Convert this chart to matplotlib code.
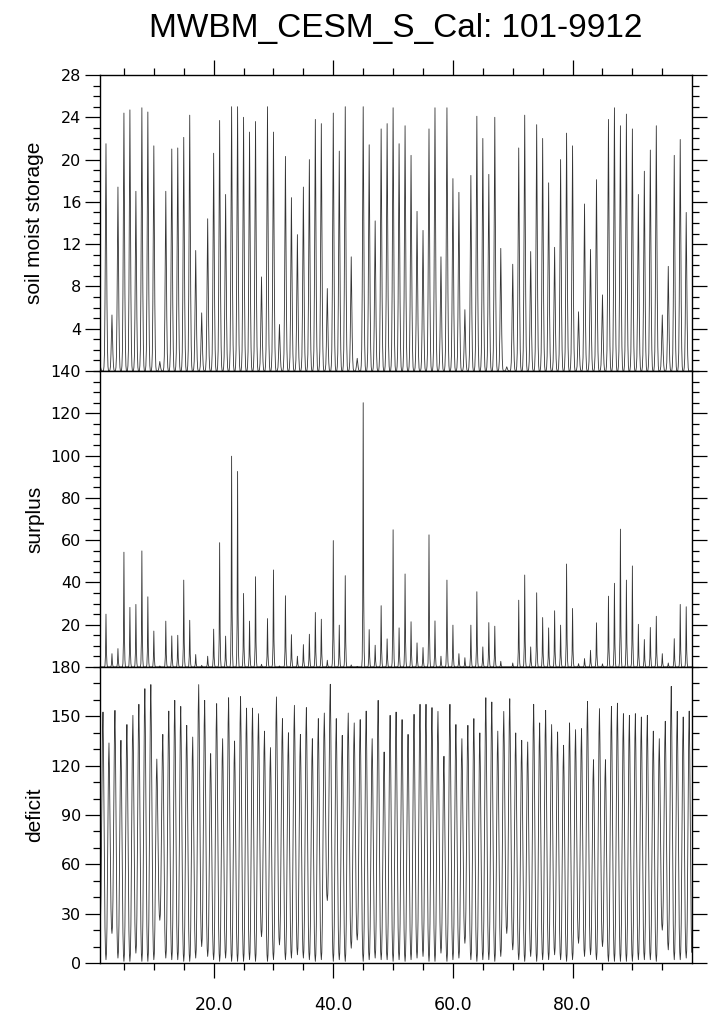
import numpy as np
import matplotlib
matplotlib.use("Agg")
import matplotlib.pyplot as plt
from matplotlib.ticker import MultipleLocator, FixedLocator, FixedFormatter

# yearly values (years 1..99)
# soil moisture: winter peak (January of year k)
soil_peak = [0.6, 21.5, 5.3, 17.4, 24.4, 24.7, 17.0, 24.9, 24.5, 21.3,
             0.9, 17.0, 21.0, 21.1, 22.1, 24.2, 11.4, 5.5, 14.4, 20.6,
             23.7, 16.7, 25.0, 25.0, 24.0, 22.6, 23.6, 8.9, 25.0, 22.6,
             4.4, 20.3, 16.4, 12.9, 17.4, 20.0, 23.8, 23.4, 7.8, 24.4,
             20.8, 25.0, 10.8, 1.2, 25.0, 21.4, 14.2, 22.9, 23.4, 24.9,
             21.5, 23.2, 20.4, 15.1, 13.3, 22.9, 24.9, 10.8, 24.9, 18.2,
             16.9, 5.8, 18.5, 24.1, 22.0, 18.6, 24.0, 11.6, 0.4, 10.1,
             21.1, 24.2, 11.3, 23.3, 22.0, 17.8, 11.7, 20.0, 22.5, 21.3,
             5.6, 15.8, 11.5, 18.1, 7.2, 23.8, 24.9, 23.2, 24.3, 22.9,
             16.7, 18.9, 20.9, 23.2, 5.3, 9.9, 20.4, 21.9, 15.0]

# surplus: winter peak (January of year k)
surplus_peak = [0.0, 25.0, 6.3, 8.7, 54.3, 28.2, 29.6, 54.9, 33.2, 17.0,
                0.5, 21.7, 14.7, 15.0, 41.1, 22.1, 5.9, 0.8, 5.1, 17.9,
                58.8, 14.6, 99.7, 92.5, 34.8, 21.7, 42.7, 1.3, 22.9, 45.9,
                0.5, 33.7, 15.3, 5.1, 10.6, 15.5, 25.8, 22.6, 3.2, 59.8,
                19.8, 43.2, 1.0, 0.3, 125.0, 17.7, 10.3, 29.0, 13.3, 64.9,
                18.5, 44.0, 21.4, 11.4, 9.2, 62.5, 21.8, 5.1, 41.1, 19.8,
                6.3, 4.4, 19.8, 35.6, 9.5, 21.0, 19.3, 2.7, 0.0, 1.9,
                31.6, 43.5, 9.5, 35.1, 23.4, 18.5, 26.6, 19.8, 48.7, 27.7,
                1.6, 4.0, 7.9, 20.9, 1.5, 33.5, 39.6, 65.2, 41.1, 47.8,
                20.2, 13.0, 18.7, 24.0, 6.3, 1.9, 13.4, 29.6, 28.5]

# deficit: summer peak (July of year k) and winter low (January of year k)
deficit_peak = [152.6, 133.8, 153.6, 135.4, 145.0, 150.6, 157.3, 166.8, 169.3, 124.0,
                139.0, 153.2, 159.7, 156.0, 144.5, 137.4, 169.3, 159.7, 127.3, 157.7,
                136.4, 161.3, 135.0, 162.0, 155.0, 155.0, 151.6, 141.0, 131.0, 161.8,
                148.6, 140.0, 156.7, 139.0, 155.3, 136.4, 148.6, 152.0, 169.5, 148.6,
                138.4, 152.0, 146.0, 148.0, 153.2, 136.4, 159.7, 128.3, 150.6, 152.6,
                148.0, 139.0, 151.2, 157.3, 157.3, 155.3, 153.0, 125.7, 157.3, 145.0,
                136.4, 144.5, 148.6, 139.9, 161.3, 158.7, 141.0, 153.0, 160.7, 139.9,
                135.4, 134.4, 157.3, 146.0, 153.6, 145.0, 140.5, 132.4, 146.0, 141.9,
                142.5, 159.1, 123.6, 154.7, 123.6, 156.0, 158.0, 151.6, 150.6, 151.6,
                149.6, 150.6, 141.0, 136.4, 147.0, 168.2, 153.0, 149.6, 153.2]
deficit_low = [22, 2, 18, 3, 1, 1, 6, 1, 1, 2,
               26, 3, 2, 2, 1, 1, 3, 10, 4, 2,
               1, 3, 1, 1, 1, 2, 1, 16, 1, 2,
               11, 2, 3, 5, 3, 2, 1, 2, 38, 1,
               2, 1, 9, 14, 1, 2, 3, 2, 2, 1,
               2, 1, 2, 3, 4, 1, 1, 6, 1, 2,
               3, 12, 2, 1, 2, 2, 1, 4, 18, 8,
               2, 1, 4, 1, 2, 2, 5, 2, 1, 2,
               12, 4, 5, 2, 10, 1, 1, 1, 1, 1,
               2, 2, 2, 1, 20, 8, 2, 2, 3]

# seasonal shapes (Jan..Dec) read from the spike profiles
soil_after = [1.0, 0.62, 0.3, 0.1, 0.02, 0, 0, 0, 0, 0, 0, 0]
soil_before = [0, 0, 0, 0, 0, 0, 0, 0, 0.02, 0.08, 0.3, 0.66]
surplus_after = [1.0, 0.28, 0.06, 0, 0, 0, 0, 0, 0, 0, 0, 0]
surplus_before = [0, 0, 0, 0, 0, 0, 0, 0, 0, 0, 0.03, 0.22]
deficit_rise = [0.0, 0.03, 0.15, 0.38, 0.65, 0.9, 1.0]
deficit_fall = [0.85, 0.6, 0.35, 0.13, 0.03]

years = np.arange(1, 100)
nyr = len(years)

sp = np.array(soil_peak)
sp_next = np.append(sp[1:], 0.0)
soil = sp[:, None] * np.array(soil_after) + sp_next[:, None] * np.array(soil_before)

up = np.array(surplus_peak)
up_next = np.append(up[1:], 0.0)
surplus = up[:, None] * np.array(surplus_after) + up_next[:, None] * np.array(surplus_before)

dp = np.array(deficit_peak)
dl = np.array(deficit_low, dtype=float)
dl_next = np.append(dl[1:], 2.0)
deficit = np.zeros((nyr, 12))
deficit[:, :7] = dl[:, None] + (dp - dl)[:, None] * np.array(deficit_rise)
deficit[:, 7:] = dl_next[:, None] + (dp - dl_next)[:, None] * np.array(deficit_fall)

t = (years[:, None] + np.arange(12) / 12.0).ravel()
series = [soil.ravel(), surplus.ravel(), deficit.ravel()]
ylabels = ["soil moist storage", "surplus", "deficit"]
ymax = [28, 140, 180]
ymajor = [4, 20, 30]
yminor = [1, 5, 10]

fig = plt.figure(figsize=(7.16, 10.16), dpi=100)
left, width, height = 100 / 716, 591.7 / 716, 296 / 1016
bottoms = [1 - 371 / 1016, 1 - 667 / 1016, 1 - 963 / 1016]

for i in range(3):
    ax = fig.add_axes([left, bottoms[i], width, height])
    ax.plot(t, series[i], color="0.2", lw=0.6)
    ax.set_xlim(1.0, 99 + 11 / 12)
    ax.set_ylim(0, ymax[i])
    ticks = np.arange(0, ymax[i] + 0.1, ymajor[i])
    if i < 2:
        ticks = ticks[1:]
    ax.yaxis.set_major_locator(FixedLocator(ticks))
    ax.yaxis.set_major_formatter(FixedFormatter([str(int(v)) for v in ticks]))
    ax.yaxis.set_minor_locator(MultipleLocator(yminor[i]))
    ax.xaxis.set_major_locator(MultipleLocator(20))
    ax.xaxis.set_minor_locator(MultipleLocator(5))
    ax.xaxis.set_major_formatter(matplotlib.ticker.FormatStrFormatter("%.1f"))
    ax.tick_params(which="both", direction="out", width=0.9, right=True,
                   top=(i == 0), bottom=(i == 2), labelbottom=(i == 2),
                   colors="black")
    ax.tick_params(which="major", length=10.5, pad=3)
    ax.tick_params(which="minor", length=5.2)
    for lab in ax.get_yticklabels() + ax.get_xticklabels():
        lab.set_fontfamily("DejaVu Sans")
    ax.tick_params(axis="y", labelsize=11.5)
    ax.tick_params(axis="x", labelsize=12.5, pad=13)
    for s in ax.spines.values():
        s.set_linewidth(1.0)
    fig.text(35 / 716, bottoms[i] + height / 2, ylabels[i], rotation=90,
             ha="center", va="center", fontsize=15, family="Liberation Sans")

fig.text(396 / 716, 1 - 28 / 1016, "MWBM_CESM_S_Cal: 101-9912", ha="center",
         va="center", fontsize=24, family="Liberation Sans")

fig.savefig("out.png", dpi=100)
